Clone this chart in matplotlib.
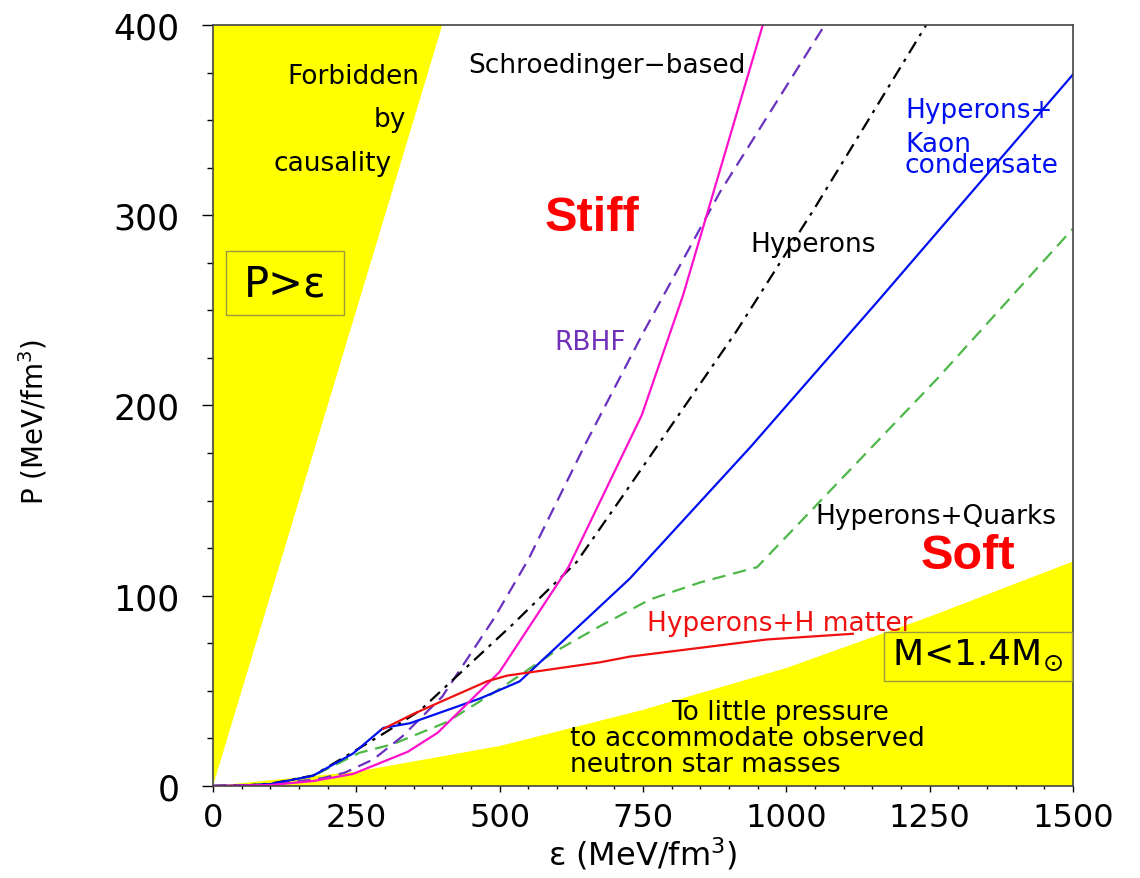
import matplotlib.pyplot as plt
from matplotlib.ticker import MultipleLocator
from matplotlib.patches import Rectangle

# equation of state curves, energy density eps (MeV/fm^3) vs pressure P (MeV/fm^3)
eps_schr = [0, 100, 175, 244, 340, 392, 500, 620, 748, 820, 959]
p_schr = [0, 0.5, 2.6, 6.3, 18, 28, 60, 115, 195, 258, 400]

eps_rbhf = [0, 100, 190, 230, 280, 330, 400, 490, 550, 650, 750, 884, 1067]
p_rbhf = [0, 0.5, 4, 7, 14, 26, 47, 88, 119, 180, 238, 312, 400]

eps_hyp = [0, 50, 100, 175, 245, 300, 361, 430, 523, 634, 716, 913, 1050, 1244]
p_hyp = [0, 0.2, 1.2, 5.5, 18, 28, 39.6, 59, 85, 117.6, 153, 239, 304, 400]

eps_kaon = [0, 50, 100, 174, 244, 297, 344, 466, 535, 727, 937, 1163, 1500]
p_kaon = [0, 0.2, 1, 5.3, 17, 30.5, 33, 46, 55, 109, 178, 256, 374]

eps_quark = [0, 100, 175, 256, 314, 408, 500, 593, 675, 762, 850, 949, 1263, 1500]
p_quark = [0, 1, 5.3, 17.5, 22, 33.6, 51, 70, 84, 98, 107, 115, 214, 293]

eps_hmat = [297, 349, 408, 478, 513, 675, 727, 966, 1116]
p_hmat = [30, 37.8, 45.7, 55, 58, 65, 68, 77, 80]

# lower bound from 1.4 solar mass stars
eps_soft = [0, 250, 500, 750, 1000, 1250, 1500]
p_soft = [0, 7.5, 21, 40, 62, 89, 118]

fig, ax = plt.subplots(figsize=(11.4, 8.79), dpi=100)
fig.subplots_adjust(left=0.1868, right=0.9412, bottom=0.1047, top=0.9704)

yel = '#FFFF00'
ax.fill([0, 400, 0], [0, 400, 400], color=yel, lw=0, zorder=0)
ax.fill(eps_soft + [1500], p_soft + [0], color=yel, lw=0, zorder=0)

lw = 1.6
ax.plot(eps_quark, p_quark, color='#4DB848', lw=lw, dashes=(6, 3.5))
ax.plot(eps_rbhf, p_rbhf, color='#6A30C0', lw=lw, dashes=(6, 3.5))
ax.plot(eps_hyp, p_hyp, color='black', lw=lw, dashes=(6, 3, 1.5, 3))
ax.plot(eps_kaon, p_kaon, color='#0010F0', lw=lw)
ax.plot(eps_schr, p_schr, color='#FF10CC', lw=lw)
ax.plot(eps_hmat, p_hmat, color='#F01010', lw=lw)

ax.set_xlim(0, 1500)
ax.set_ylim(0, 400)
ax.xaxis.set_major_locator(MultipleLocator(250))
ax.xaxis.set_minor_locator(MultipleLocator(50))
ax.yaxis.set_major_locator(MultipleLocator(100))
ax.yaxis.set_minor_locator(MultipleLocator(25))
ax.tick_params(axis='x', which='major', length=4.5, width=1, labelsize=23, pad=7)
ax.tick_params(axis='x', which='minor', length=2.5, width=1)
ax.tick_params(axis='y', which='major', length=8, width=1, labelsize=25, pad=16)
ax.tick_params(axis='y', which='minor', length=4.5, width=1)
for s in ax.spines.values():
    s.set_color('#444444')
    s.set_linewidth(1.2)

ax.set_xlabel('ε (MeV/fm$^3$)', fontsize=23, labelpad=1)
ax.set_ylabel('P (MeV/fm$^3$)', fontsize=20, labelpad=36)
ax.yaxis.set_label_coords(-0.19, 0.48)

f = 19
ax.text(245, 369.5, 'Forbidden', fontsize=f, ha='center', va='baseline')
ax.text(309, 347, 'by', fontsize=f, ha='center', va='baseline')
ax.text(208, 324, 'causality', fontsize=f, ha='center', va='baseline')
ax.text(688, 375.5, 'Schroedinger−based', fontsize=f, ha='center', va='baseline')
ax.text(1046, 281, 'Hyperons', fontsize=f, ha='center', va='baseline')
ax.text(1207, 351.6, 'Hyperons+', fontsize=f, color='#0010F0', va='baseline')
ax.text(1207, 334, 'Kaon', fontsize=f, color='#0010F0', va='baseline')
ax.text(1207, 322.7, 'condensate', fontsize=f, color='#0010F0', va='baseline')
ax.text(595, 229.7, 'RBHF', fontsize=f, color='#7030B8', va='baseline')
ax.text(1261, 142, 'Hyperons+Quarks', fontsize=f, ha='center', va='center')
ax.text(989, 85.7, 'Hyperons+H matter', fontsize=f, color='#F01010', ha='center', va='center')
ax.text(989, 35.4, 'To little pressure', fontsize=f, ha='center', va='baseline')
ax.text(623, 21.7, 'to accommodate observed', fontsize=f, ha='left', va='baseline')
ax.text(623, 8.0, 'neutron star masses', fontsize=f, ha='left', va='baseline')

ax.text(661, 299, 'Stiff', fontsize=35, color='#FF0000', fontweight='bold',
        family='Liberation Sans', ha='center', va='center')
ax.text(1316, 121, 'Soft', fontsize=35, color='#FF0000', fontweight='bold',
        family='Liberation Sans', ha='center', va='center')

box_c = '#9C9A3C'
ax.add_patch(Rectangle((23.2, 247.6), 204.8, 33.8, fc='none', ec=box_c, lw=1, zorder=3))
ax.text(125.6, 257.7, 'P>ε', fontsize=30, ha='center', va='baseline', zorder=4)
ax.add_patch(Rectangle((1170.5, 55.3), 327.5, 25.5, fc='none', ec=box_c, lw=1, zorder=3))
ax.text(1334, 64, 'M<1.4M$_{\\odot}$', fontsize=26, ha='center', va='baseline', zorder=4)

plt.savefig('out.png')
